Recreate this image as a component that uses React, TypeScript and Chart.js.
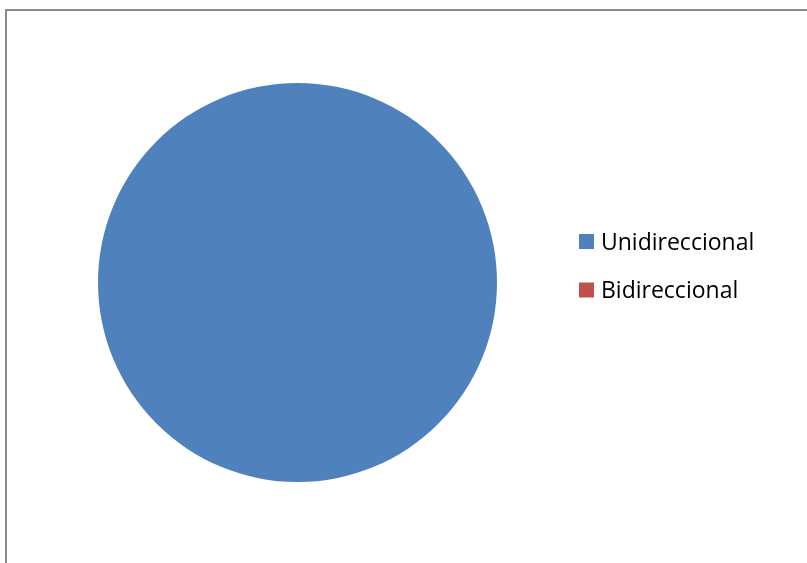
import React, { useEffect, useRef } from "react";
import { Chart, registerables } from "chart.js";

Chart.register(...registerables);

const categories = ["Unidireccional", "Bidireccional"];
const values = [100, 0];
const colors = ["#4F81BD", "#C0504D"];

const legendPlugin = {
  id: "sideLegend",
  afterDraw(chart: any) {
    const ctx = chart.ctx;
    const labels = chart.data.labels as string[];
    const bg = chart.data.datasets[0].backgroundColor as string[];
    ctx.save();
    ctx.font = '23px "Open Sans", "Noto Sans", sans-serif';
    ctx.textBaseline = "alphabetic";
    ctx.textAlign = "left";
    labels.forEach((lab, i) => {
      const y0 = 234 + i * 48.5;
      ctx.fillStyle = bg[i];
      ctx.fillRect(579, y0, 15, 15);
      ctx.fillStyle = "#000000";
      ctx.fillText(lab, 601, y0 + 15.5);
    });
    ctx.restore();
  },
};

export default function App() {
  const ref = useRef<HTMLCanvasElement>(null);
  useEffect(() => {
    document.body.style.margin = "0";
    const chart = new Chart(ref.current!, {
      type: "pie",
      data: {
        labels: categories,
        datasets: [
          {
            data: values,
            backgroundColor: colors,
            borderWidth: 0,
          },
        ],
      },
      options: {
        animation: false,
        responsive: false,
        layout: { padding: { left: 98, right: 310, top: 83, bottom: 81 } },
        plugins: { legend: { display: false }, tooltip: { enabled: false } },
      },
      plugins: [legendPlugin],
    });
    return () => chart.destroy();
  }, []);
  return (
    <div style={{ position: "relative", width: 807, height: 563, background: "#fff", overflow: "hidden" }}>
      <div
        style={{
          position: "absolute",
          left: 5,
          top: 9,
          width: 802,
          height: 560,
          borderLeft: "2px solid #8a8a8a",
          borderTop: "2px solid #8a8a8a",
        }}
      />
      <canvas ref={ref} width={807} height={563} style={{ position: "absolute", left: 0, top: 0 }} />
    </div>
  );
}
